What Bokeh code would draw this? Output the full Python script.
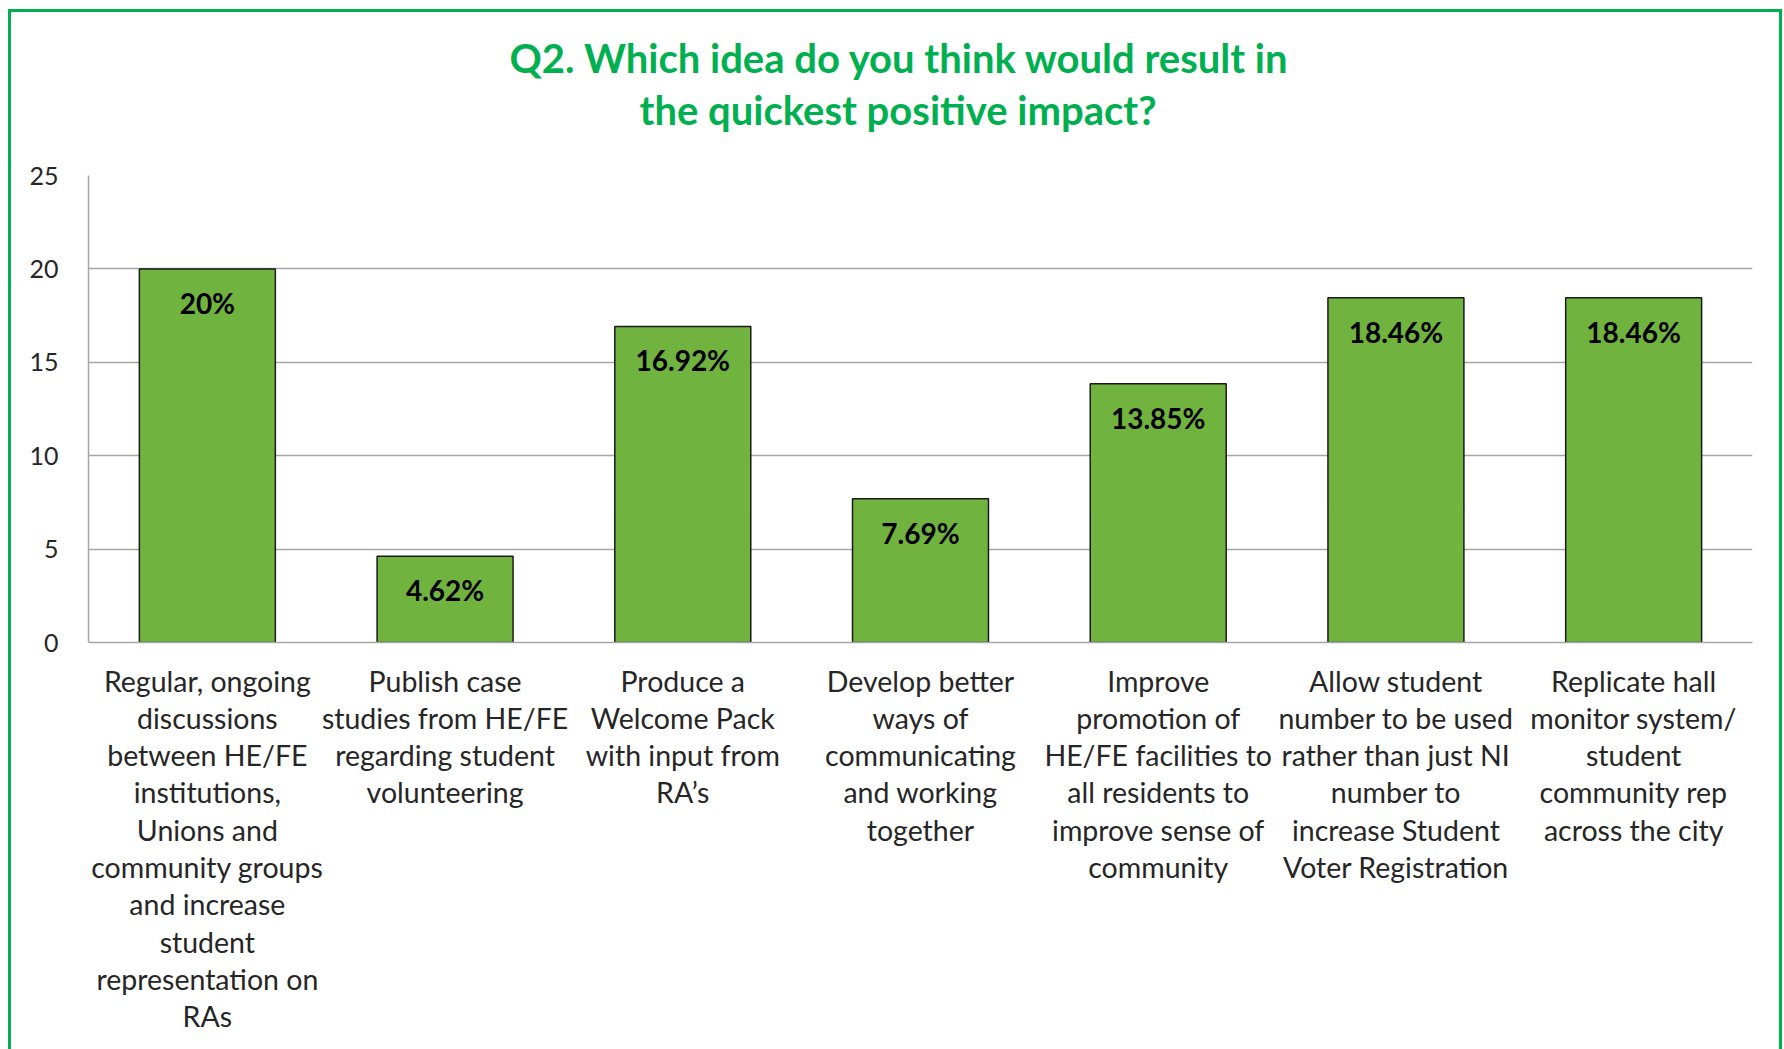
from bokeh.plotting import figure
from bokeh.models import Title, FactorRange, ColumnDataSource, SingleIntervalTicker
from bokeh.core.properties import value
from bokeh.embed import file_html
from bokeh.resources import INLINE

categories = [
    "Regular, ongoing\ndiscussions\nbetween HE/FE\ninstitutions,\nUnions and\ncommunity groups\nand increase\nstudent\nrepresentation on\nRAs",
    "Publish case\nstudies from HE/FE\nregarding student\nvolunteering",
    "Produce a\nWelcome Pack\nwith input from\nRA\u2019s",
    "Develop better\nways of\ncommunicating\nand working\ntogether",
    "Improve\npromotion of\nHE/FE facilities to\nall residents to\nimprove sense of\ncommunity",
    "Allow student\nnumber to be used\nrather than just NI\nnumber to\nincrease Student\nVoter Registration",
    "Replicate hall\nmonitor system/\nstudent\ncommunity rep\nacross the city",
]
values = [20, 4.62, 16.92, 7.69, 13.85, 18.46, 18.46]
value_labels = ["20%", "4.62%", "16.92%", "7.69%", "13.85%", "18.46%", "18.46%"]
title_lines = ["Q2. Which idea do you think would result in", "the quickest positive impact?"]

FONT = "Lato"
GREEN_TITLE = "#00B050"
BAR = "#70B33F"
GRID = "#A6A6A6"

src = ColumnDataSource(dict(cat=categories, val=values, lab=value_labels))

p = figure(
    width=1784, height=1049,
    x_range=FactorRange(*categories, range_padding=0),
    y_range=(0, 25),
    output_backend="svg", toolbar_location=None,
    min_border_left=88, min_border_right=32, min_border_top=175, min_border_bottom=407,
)
p.outline_line_color = None
p.background_fill_color = None
p.border_fill_color = None

p.vbar(x="cat", top="val", width=0.572, source=src,
       fill_color=BAR, line_color="#1a1a1a", line_width=1.5)

p.text(x="cat", y="val", text="lab", source=src,
       text_align="center", text_baseline="middle", y_offset=34,
       text_font=value(FONT), text_font_style="bold", text_font_size="28px",
       text_color="#000000")

# axes
p.yaxis.ticker = SingleIntervalTicker(interval=5)
p.yaxis.axis_line_color = GRID
p.yaxis.axis_line_width = 1.5
p.yaxis.major_tick_line_color = None
p.yaxis.minor_tick_line_color = None
p.yaxis.major_label_standoff = 24
p.yaxis.major_label_text_font = FONT
p.yaxis.major_label_text_font_size = "25px"
p.yaxis.major_label_text_color = "#262626"

p.xaxis.axis_line_color = GRID
p.xaxis.axis_line_width = 1.5
p.xaxis.major_tick_line_color = None
p.xaxis.minor_tick_line_color = None
p.xaxis.major_label_standoff = 15
p.xaxis.major_label_text_font = FONT
p.xaxis.major_label_text_font_size = "28.5px"
p.xaxis.major_label_text_color = "#262626"
p.xaxis.major_label_text_line_height = 1.097
p.xaxis.major_label_orientation = "horizontal"

p.xgrid.grid_line_color = None
p.ygrid.grid_line_color = GRID
p.ygrid.grid_line_width = 1.5
p.ygrid.ticker = SingleIntervalTicker(interval=5)

# title: a blank spacer next to the plot, then the two lines (outermost added last);
# left-aligned with offsets so that each line is centred on the whole chart area
title_offsets = [421, 551]
p.add_layout(Title(text=" ", text_font=FONT, text_font_size="32px", standoff=0), "above")
for txt, off in reversed(list(zip(title_lines, title_offsets))):
    p.add_layout(Title(text=txt, align="left", offset=off,
                       text_font=FONT, text_font_style="bold", text_font_size="40px",
                       text_color=GREEN_TITLE, standoff=2), "above")

# green chart-area border (left, top, right) drawn behind the transparent canvas
p.styles = {
    "background-color": "white",
    "box-shadow": ("inset 8px 9px 0 0 #ffffff, inset -2px 0 0 0 #ffffff, "
                   "inset 11px 12px 0 0 #00B050, inset -5px 0 0 0 #00B050"),
}

open("out.html", "w").write(file_html(p, INLINE))
